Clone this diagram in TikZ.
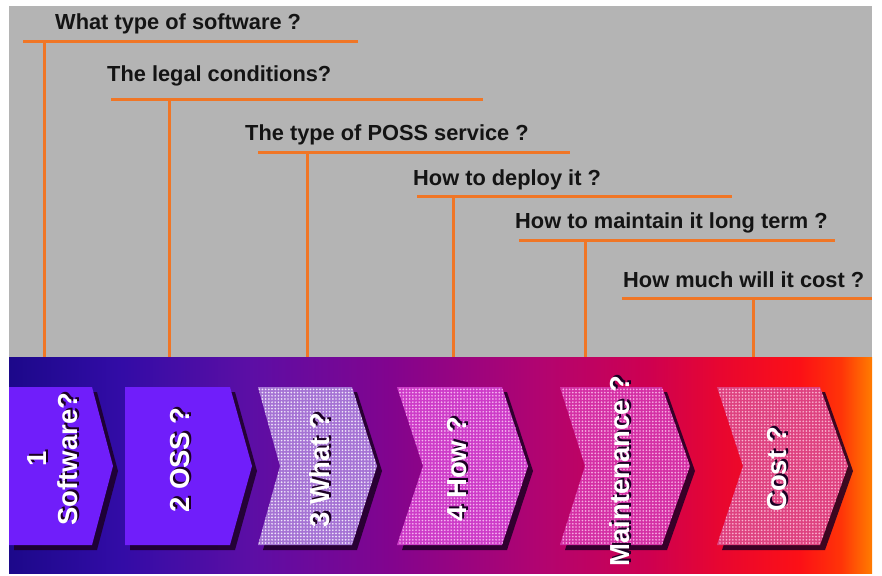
\documentclass[tikz,border=0pt]{standalone}
\usepackage{fontspec}
\setmainfont{Liberation Sans}
\usetikzlibrary{patterns.meta}

% palette
\definecolor{panelgray}{RGB}{180,180,180}
\definecolor{leader}{RGB}{240,118,38}
\definecolor{qtext}{RGB}{20,20,20}
\definecolor{violetbox}{RGB}{112,30,250}
\definecolor{boxshadow}{RGB}{28,0,36}
\definecolor{whatbase}{RGB}{165,115,212}
\definecolor{whatdot}{RGB}{238,228,250}
\definecolor{howbase}{RGB}{205,60,200}
\definecolor{howdot}{RGB}{245,178,240}
\definecolor{maintbase}{RGB}{212,48,165}
\definecolor{maintdot}{RGB}{247,170,225}
\definecolor{costbase}{RGB}{222,66,128}
\definecolor{costdot}{RGB}{250,175,205}

% band colours, left to right
\definecolor{bandA}{RGB}{28,8,138}
\definecolor{bandB}{RGB}{50,12,166}
\definecolor{bandC}{RGB}{92,14,165}
\definecolor{bandD}{RGB}{130,4,142}
\definecolor{bandE}{RGB}{178,4,112}
\definecolor{bandF}{RGB}{206,0,80}
\definecolor{bandG}{RGB}{232,6,48}
\definecolor{bandH}{RGB}{252,16,22}
\definecolor{bandI}{RGB}{255,52,8}
\definecolor{bandJ}{RGB}{255,125,0}

% the middle 25bp..75bp spans the band
\pgfdeclarehorizontalshading{stageband}{100bp}{%
  color(0bp)=(bandA); color(25bp)=(bandA); color(31.4bp)=(bandB);
  color(39bp)=(bandC); color(47.1bp)=(bandD); color(55.8bp)=(bandE);
  color(62.1bp)=(bandF); color(66.2bp)=(bandG); color(70.8bp)=(bandH);
  color(73.2bp)=(bandI); color(75bp)=(bandJ); color(100bp)=(bandJ)}

% chevron outline: left x, right x, left notch depth, tip depth
\newcommand\chevpath[4]{(#1,387) -- (#2,387) -- ({#2+#4},466) -- (#2,545)
  -- (#1,545) -- ({#1+#3},466) -- cycle}

% white stage caption with a dark drop shadow
\newcommand\stagelabel[3]{%
  \node[stagetxt,text=boxshadow,xshift=2pt,yshift=-2pt] (#1shadow) at (#2) {#3};
  \node[stagetxt] (#1) at (#2) {#3};}

\tikzset{
  leader/.style={draw=leader,line width=3pt},
  question/.style={anchor=base west,inner sep=0pt,text=qtext,
    font=\fontsize{21.8}{26}\selectfont\bfseries},
  stagetxt/.style={rotate=90,inner sep=0pt,align=center,text=white,
    font=\fontsize{27.5}{31}\selectfont\bfseries},
  chevshadow/.style={fill=boxshadow,fill opacity=0.85,xshift=5pt,yshift=-5pt},
  dotted fill/.style={pattern={Dots[distance=3.2pt,radius=0.95pt]},pattern color=#1}
}

\begin{document}
\begin{tikzpicture}[x=1pt,y=-1pt]
\useasboundingbox (0,0) rectangle (882,575);
\fill[white] (0,0) rectangle (882,575);

% upper grey panel and the coloured stage band
\fill[panelgray] (9,6) rectangle (872,357);
\shade[shading=stageband] (9,357) rectangle (872,573);

% questions with their leader rules
\node[question] (q1) at (55,30)  {What type of software ?};
\node[question] (q2) at (107,82) {The legal conditions?};
\node[question] (q3) at (245,140) {The type of POSS service ?};
\node[question] (q4) at (413,185) {How to deploy it ?};
\node[question] (q5) at (515,228) {How to maintain it long term ?};
\node[question] (q6) at (623,287) {How much will it cost ?};

\foreach \i/\xa/\xb/\yl/\xv in {1/23/358/42/44, 2/111/483/100/169,
    3/258/570/152/307, 4/417/732/196/453, 5/519/835/240/585, 6/622/872/298/753} {
  \coordinate (ruleL\i) at (\xa,\yl);
  \coordinate (ruleR\i) at (\xb,\yl);
  \coordinate (drop\i) at (\xv,\yl);
  \coordinate (foot\i) at (\xv,357);
  \draw[leader] (ruleL\i) -- (ruleR\i);
  \draw[leader] (drop\i) -- (foot\i);
}

% chevron shadows
\fill[chevshadow] \chevpath{9}{92}{0}{21};
\fill[chevshadow] \chevpath{125}{230}{0}{22};
\fill[chevshadow] \chevpath{258}{352}{22}{25};
\fill[chevshadow] \chevpath{397}{502}{26}{26};
\fill[chevshadow] \chevpath{560}{662}{25}{28};
\fill[chevshadow] \chevpath{717}{820}{26}{28};

% solid chevrons
\fill[violetbox] \chevpath{9}{92}{0}{21};
\fill[violetbox] \chevpath{125}{230}{0}{22};

% dotted chevrons
\fill[whatbase] \chevpath{258}{352}{22}{25};
\fill[dotted fill=whatdot] \chevpath{258}{352}{22}{25};
\fill[howbase] \chevpath{397}{502}{26}{26};
\fill[dotted fill=howdot] \chevpath{397}{502}{26}{26};
\fill[maintbase] \chevpath{560}{662}{25}{28};
\fill[dotted fill=maintdot] \chevpath{560}{662}{25}{28};
\fill[costbase] \chevpath{717}{820}{26}{28};
\fill[dotted fill=costdot] \chevpath{717}{820}{26}{28};

% stage captions
\stagelabel{s1}{53,459}{1\\Software?}
\stagelabel{s2}{180,460}{2 OSS ?}
\stagelabel{s3}{320,470}{3 What ?}
\stagelabel{s4}{457,469}{4 How ?}
\stagelabel{s5}{620,471}{Maintenance ?}
\stagelabel{s6}{777,469}{Cost ?}
\end{tikzpicture}
\end{document}
